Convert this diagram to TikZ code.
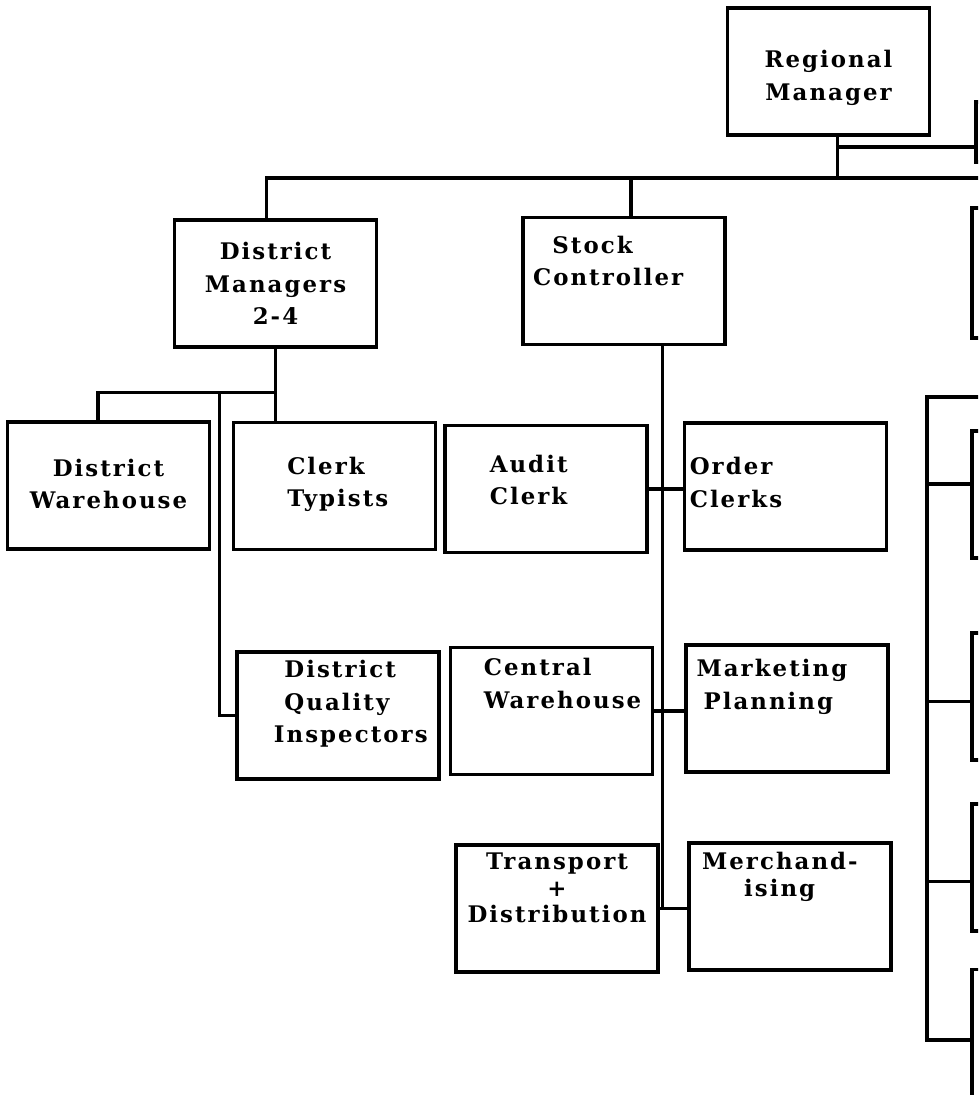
\documentclass[tikz,border=0pt]{standalone}
\usepackage{fontspec}
\setmainfont{DejaVu Serif}[LetterSpace=9]
\usepackage{tikz}
\usetikzlibrary{positioning}

\newlength\cellw \setlength\cellw{4.04cm}
\newlength\cellh \setlength\cellh{2.54cm}
% box text: first baseline #1 below the top edge
\newcommand\ctext[2]{\parbox[c][\cellh][t]{\cellw}{\centering\rule{0pt}{#1}#2}}
\newcommand\ltext[3]{\parbox[c][\cellh][t]{\cellw}{\raggedright\leftskip=#2\relax\rule{0pt}{#1}#3}}

\tikzset{
  % boxes
  unit/.style={draw,line width=1.9pt,inner sep=0pt,minimum width=\cellw,
               minimum height=\cellh,font=\fontsize{13}{18.5}\selectfont\bfseries},
  stub/.style={unit,minimum height=#1},
  % lines
  wire/.style={draw,line width=1.9pt},
}

\begin{document}
\begin{tikzpicture}[x=0.02cm,y=-0.02cm]
  \fill[white] (0,0) rectangle (978,1095);
  \useasboundingbox (0,0) rectangle (978,1095);
  \clip (0,0) rectangle (978,1095);

  \node[unit] (rm) at (828.5,71.5) {\ctext{34pt}{Regional\\Manager}};
  \node[stub=1.2cm] (tr) at (1077,132) {};

  \node[unit] (dm) at (275.5,283.5) {\ctext{22.7pt}{District\\Managers\\2-4}};
  \node[unit] (sc) at (624,281) {\ltext{20.4pt}{5.7pt}{\hspace*{11pt}Stock\\Controller}};
  \node[stub=2.6cm] (r0) at (1073,273) {};

  \node[unit] (dw) at (108.5,485.5) {\ctext{31pt}{District\\Warehouse}};
  \node[unit] (ct) at (334.5,486) {\ltext{29.5pt}{30.6pt}{Clerk\\Typists}};
  \node[unit] (ac) at (546,489) {\ltext{26.6pt}{25.5pt}{Audit\\Clerk}};
  \node[unit] (oc) at (785.5,486.5) {\ltext{29.5pt}{3pt}{Order\\Clerks}};

  \node[unit] (dq) at (338,715.5) {\ltext{14.7pt}{27pt}{District\\Quality\\\hspace*{-6pt}Inspectors}};
  \node[unit] (cw) at (551.5,711) {\ltext{16pt}{19pt}{Central\\Warehouse}};
  \node[unit] (mp) at (787,708.5) {\ltext{18pt}{6pt}{Marketing\\\hspace*{4pt}Planning}};

  \node[unit] (td) at (557,908.5) {\ctext{14.2pt}{Transport\\[-3.5pt]+\\[-3.5pt]Distribution}};
  \node[unit] (md) at (790,906.5) {\ltext{15.3pt}{7.4pt}{Merchand-\\[-3.2pt]\hspace*{24pt}ising}};

  \node[unit] (ra) at (1073,494.5) {};
  \node[unit] (rb) at (1073,696.5) {};
  \node[unit] (rc) at (1073,867.5) {};
  \node[unit] (rd) at (1073,1033) {};

  % top bus
  \coordinate (busR) at (1000,178);
  \coordinate (dmtop) at ([xshift=-5pt]dm.north);
  \coordinate (sctop) at ([xshift=4pt]sc.north);
  \coordinate (rmfoot) at ([xshift=5pt]rm.south);
  \coordinate (trin) at ([yshift=-8.5pt]tr.west);
  \draw[wire] (dmtop) |- (busR);
  \draw[wire] (sctop) -- (sctop |- busR);
  \draw[wire] (rmfoot) -- (rmfoot |- busR);
  \draw[wire] (rmfoot |- trin) -- (trin);

  % district managers
  \coordinate (dmjoin) at ([yshift=-25pt]dm.south);
  \coordinate (dwtop) at ([xshift=-6pt]dw.north);
  \coordinate (dqbus) at ([xshift=-32pt]dmjoin);
  \draw[wire] (dm.south) -- (dm.south |- ct.north);
  \draw[wire] (dmjoin) -| (dwtop);
  \draw[wire] (dqbus) |- (dq.west);

  % stock controller
  \coordinate (scfoot) at ([xshift=22pt]sc.south);
  \draw[wire] (scfoot) -- (scfoot |- td.east);
  \draw[wire] (ac.east) -- (ac.east -| oc.west);
  \draw[wire] (cw.east) -- (cw.east -| mp.west);
  \draw[wire] (td.east) -- (td.east -| md.west);

  % right column
  \coordinate (rtop) at (1000,397);
  \coordinate (rfoot) at (927,1040);
  \draw[wire] (rtop) -| (rfoot) -- (rfoot -| rd.west);
  \draw[wire] ([yshift=6pt]ra.west) -- ++(-45,0);
  \draw[wire] ([yshift=-3pt]rb.west) -- ++(-45,0);
  \draw[wire] ([yshift=-8pt]rc.west) -- ++(-45,0);
\end{tikzpicture}
\end{document}
